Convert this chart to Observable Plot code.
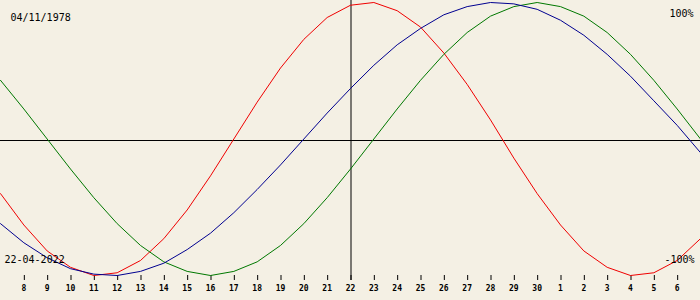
<!DOCTYPE html>
<html>
<head>
<meta charset="utf-8">
<script src="https://cdn.jsdelivr.net/npm/d3@7"></script>
<script src="https://cdn.jsdelivr.net/npm/@observablehq/plot@0.6"></script>
<style>
  html, body { margin: 0; padding: 0; background: #f4f0e4; }
  #chart svg { display: block; }
</style>
</head>
<body>
<div id="chart"></div>
<script>
// Day index: 0 = 8 April 2022 ... 14 = 22 April ... 28 = 6 May; -1 = 7 April, 29 = 7 May
const days = d3.range(-1, 30);
const tickDays = d3.range(0, 29);
const tickLabels = ["8","9","10","11","12","13","14","15","16","17","18","19","20","21","22","23","24","25","26","27","28","29","30","1","2","3","4","5","6"];
const birthLabel = "04/11/1978";
const dateLabel = "22-04-2022";
const topLabel = "100%";
const bottomLabel = "-100%";
const currentDay = 14;

// Values (-1 .. 1), one per day from 7 April to 7 May
const physical = [-0.40, -0.63, -0.82, -0.94, -1.00, -0.98, -0.89, -0.73, -0.52, -0.27, 0.00, 0.27, 0.52, 0.73, 0.89, 0.98, 1.00, 0.94, 0.82, 0.63, 0.40, 0.14, -0.14, -0.40, -0.63, -0.82, -0.94, -1.00, -0.98, -0.89, -0.73];
const emotional = [0.43, 0.22, 0.00, -0.22, -0.43, -0.62, -0.78, -0.90, -0.97, -1.00, -0.97, -0.90, -0.78, -0.62, -0.43, -0.22, 0.00, 0.22, 0.43, 0.62, 0.78, 0.90, 0.97, 1.00, 0.97, 0.90, 0.78, 0.62, 0.43, 0.22, 0.00];
const intellectual = [-0.62, -0.76, -0.87, -0.95, -0.99, -1.00, -0.97, -0.91, -0.81, -0.69, -0.54, -0.37, -0.19, 0.00, 0.19, 0.37, 0.54, 0.69, 0.81, 0.91, 0.97, 1.00, 0.99, 0.95, 0.87, 0.76, 0.62, 0.46, 0.28, 0.10, -0.10];

const series = [
  {name: "physical", values: physical, color: "#f00000"},
  {name: "emotional", values: emotional, color: "#007800"},
  {name: "intellectual", values: intellectual, color: "#000090"}
];
const rows = series.flatMap(s => s.values.map((v, i) => ({day: days[i], value: v, name: s.name})));

const mono = "'DejaVu Sans Mono', 'Liberation Mono', monospace";

const chart = Plot.plot({
  width: 700,
  height: 300,
  marginTop: 0,
  marginLeft: 0,
  marginRight: 0,
  marginBottom: 20,
  style: {background: "#f4f0e4", fontFamily: mono},
  x: {domain: [-1, 29], range: [0, 700], axis: null},
  y: {domain: [-1, 1], range: [275, 2], axis: null},
  color: {domain: series.map(s => s.name), range: series.map(s => s.color)},
  marks: [
    Plot.ruleY([0], {stroke: "#000", strokeWidth: 1, dy: 1.5}),
    Plot.ruleX([currentDay], {stroke: "#000", strokeWidth: 1, dx: 0.5}),
    Plot.tickX(tickDays, {x: d => d, stroke: "#000", insetTop: 275, dx: 0.5}),
    Plot.axisX({
      ticks: tickDays,
      tickFormat: d => tickLabels[d],
      tickSize: 0,
      tickPadding: 5,
      label: null,
      fontSize: 8,
      fontWeight: "bold",
      fontFamily: mono,
      fill: "#000"
    }),
    Plot.line(rows, {x: "day", y: "value", z: "name", stroke: "name", strokeWidth: 1, curve: "linear"}),
    Plot.text([birthLabel], {frameAnchor: "top-left", dx: 10, dy: 13, fontSize: 10, fontFamily: mono, fill: "#000", textAnchor: "start"}),
    Plot.text([topLabel], {frameAnchor: "top-right", dx: -7, dy: 9, fontSize: 10, fontFamily: mono, fill: "#000", textAnchor: "end"}),
    Plot.text([dateLabel], {frameAnchor: "bottom-left", dx: 4, dy: -18, fontSize: 10, fontFamily: mono, fill: "#000", textAnchor: "start"}),
    Plot.text([bottomLabel], {frameAnchor: "bottom-right", dx: -6, dy: -18, fontSize: 10, fontFamily: mono, fill: "#000", textAnchor: "end"})
  ]
});
document.getElementById("chart").appendChild(chart);
</script>
</body>
</html>
